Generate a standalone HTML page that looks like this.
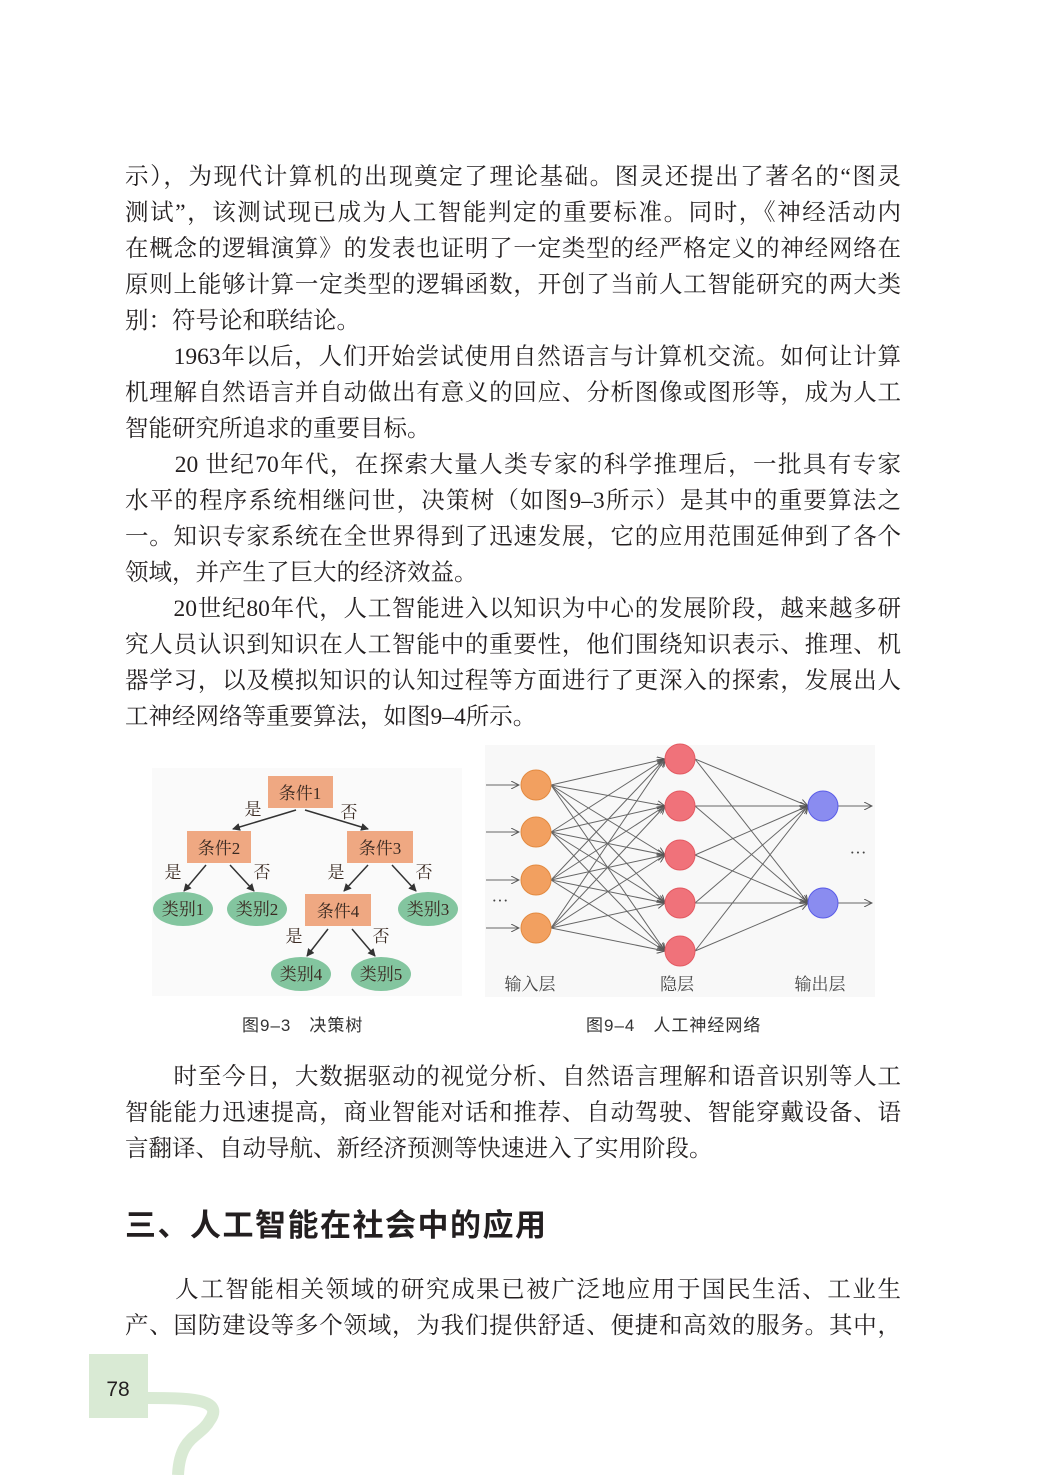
<!DOCTYPE html>
<html><head><meta charset="utf-8"><style>
body{margin:0;background:#fff;}
#p{position:relative;width:1047px;height:1475px;overflow:hidden;background:#fff;font-family:"Liberation Serif","Noto Serif CJK SC",serif;color:#231f20;}
.l{position:absolute;left:125px;width:776px;font-size:23.5px;line-height:36px;height:36px;text-align:justify;text-align-last:justify;white-space:nowrap;}
.e{text-align-last:left;}
.cap{position:absolute;font-size:17px;font-family:"Liberation Sans","Noto Sans CJK SC",sans-serif;color:#333;letter-spacing:1px;}
h2{position:absolute;left:125px;top:1200px;margin:0;font:bold 31px "Liberation Sans","Noto Sans CJK SC",sans-serif;letter-spacing:1.5px;color:#231f20;}
</style></head><body><div id="p">
<div class="l" style="top:159px">示），为现代计算机的出现奠定了理论基础。图灵还提出了著名的“图灵</div>
<div class="l" style="top:195px">测试”，该测试现已成为人工智能判定的重要标准。同时，《神经活动内</div>
<div class="l" style="top:231px">在概念的逻辑演算》的发表也证明了一定类型的经严格定义的神经网络在</div>
<div class="l" style="top:267px">原则上能够计算一定类型的逻辑函数，开创了当前人工智能研究的两大类</div>
<div class="l e" style="top:303px">别：符号论和联结论。</div>
<div class="l" style="top:339px">　　1963年以后，人们开始尝试使用自然语言与计算机交流。如何让计算</div>
<div class="l" style="top:375px">机理解自然语言并自动做出有意义的回应、分析图像或图形等，成为人工</div>
<div class="l e" style="top:411px">智能研究所追求的重要目标。</div>
<div class="l" style="top:447px">　　20 世纪70年代，在探索大量人类专家的科学推理后，一批具有专家</div>
<div class="l" style="top:483px">水平的程序系统相继问世，决策树（如图9–3所示）是其中的重要算法之</div>
<div class="l" style="top:519px">一。知识专家系统在全世界得到了迅速发展，它的应用范围延伸到了各个</div>
<div class="l e" style="top:555px">领域，并产生了巨大的经济效益。</div>
<div class="l" style="top:591px">　　20世纪80年代，人工智能进入以知识为中心的发展阶段，越来越多研</div>
<div class="l" style="top:627px">究人员认识到知识在人工智能中的重要性，他们围绕知识表示、推理、机</div>
<div class="l" style="top:663px">器学习，以及模拟知识的认知过程等方面进行了更深入的探索，发展出人</div>
<div class="l e" style="top:699px">工神经网络等重要算法，如图9–4所示。</div>

<svg style="position:absolute;left:0;top:0" width="1047" height="1475" font-family="Liberation Serif,Noto Serif CJK SC,serif">
<defs><marker id="a" markerWidth="8" markerHeight="8" refX="7" refY="4" orient="auto" markerUnits="userSpaceOnUse"><path d="M0,0L8,4L0,8z" fill="#333"/></marker>
<marker id="b" markerWidth="9" markerHeight="8" refX="8" refY="4" orient="auto" markerUnits="userSpaceOnUse"><path d="M0,0L8,4L0,8" fill="none" stroke="#555" stroke-width="1"/></marker></defs>
<rect x="152" y="768" width="310" height="228" fill="#fafafa"/>
<g stroke="#333" stroke-width="1.5" marker-end="url(#a)">
<line x1="296" y1="810" x2="233" y2="829"/><line x1="305" y1="810" x2="368" y2="829"/>
<line x1="206" y1="865" x2="184" y2="891"/><line x1="230" y1="865" x2="254" y2="891"/>
<line x1="368" y1="865" x2="344" y2="891"/><line x1="392" y1="865" x2="416" y2="891"/>
<line x1="328" y1="929" x2="307" y2="956"/><line x1="352" y1="929" x2="375" y2="956"/>
</g>
<g fill="#efa882"><rect x="268" y="776" width="65" height="32"/><rect x="187" y="831" width="64" height="32"/><rect x="347" y="831" width="66" height="32"/><rect x="305" y="894" width="66" height="32"/></g>
<g fill="#83c59f"><ellipse cx="183" cy="909" rx="30" ry="17"/><ellipse cx="257" cy="909" rx="30" ry="17"/><ellipse cx="428" cy="909" rx="30" ry="17"/><ellipse cx="301" cy="974" rx="30" ry="17"/><ellipse cx="381" cy="974" rx="30" ry="17"/></g>
<g font-size="17" fill="#3a2a22" text-anchor="middle">
<text x="300" y="799">条件1</text><text x="219" y="854">条件2</text><text x="380" y="854">条件3</text><text x="338" y="917">条件4</text>
<text x="183" y="915">类别1</text><text x="257" y="915">类别2</text><text x="428" y="915">类别3</text><text x="301" y="980">类别4</text><text x="381" y="980">类别5</text>
<text x="253" y="815">是</text><text x="349" y="818">否</text><text x="173" y="878">是</text><text x="262" y="878">否</text><text x="336" y="878">是</text><text x="424" y="878">否</text><text x="294" y="942">是</text><text x="381" y="942">否</text>
</g>
<rect x="485" y="745" width="390" height="252" fill="#f8f8f8"/>
<g stroke="#666" stroke-width="1" marker-end="url(#b)">
<line x1="486" y1="785" x2="519" y2="785"/><line x1="486" y1="832" x2="519" y2="832"/><line x1="486" y1="880" x2="519" y2="880"/><line x1="486" y1="928" x2="519" y2="928"/>
<line x1="838" y1="806" x2="872" y2="806"/><line x1="838" y1="903" x2="872" y2="903"/>
<line x1="551" y1="785" x2="665" y2="759"/><line x1="551" y1="785" x2="665" y2="806"/><line x1="551" y1="785" x2="665" y2="855"/><line x1="551" y1="785" x2="665" y2="903"/><line x1="551" y1="785" x2="665" y2="951"/>
<line x1="551" y1="832" x2="665" y2="759"/><line x1="551" y1="832" x2="665" y2="806"/><line x1="551" y1="832" x2="665" y2="855"/><line x1="551" y1="832" x2="665" y2="903"/><line x1="551" y1="832" x2="665" y2="951"/>
<line x1="551" y1="880" x2="665" y2="759"/><line x1="551" y1="880" x2="665" y2="806"/><line x1="551" y1="880" x2="665" y2="855"/><line x1="551" y1="880" x2="665" y2="903"/><line x1="551" y1="880" x2="665" y2="951"/>
<line x1="551" y1="928" x2="665" y2="759"/><line x1="551" y1="928" x2="665" y2="806"/><line x1="551" y1="928" x2="665" y2="855"/><line x1="551" y1="928" x2="665" y2="903"/><line x1="551" y1="928" x2="665" y2="951"/>
<line x1="695" y1="759" x2="808" y2="806"/><line x1="695" y1="759" x2="808" y2="903"/><line x1="695" y1="806" x2="808" y2="806"/><line x1="695" y1="806" x2="808" y2="903"/><line x1="695" y1="855" x2="808" y2="806"/><line x1="695" y1="855" x2="808" y2="903"/><line x1="695" y1="903" x2="808" y2="806"/><line x1="695" y1="903" x2="808" y2="903"/><line x1="695" y1="951" x2="808" y2="806"/><line x1="695" y1="951" x2="808" y2="903"/>
</g>
<g fill="#f2a060" stroke="#e38a40"><circle cx="536" cy="785" r="15"/><circle cx="536" cy="832" r="15"/><circle cx="536" cy="880" r="15"/><circle cx="536" cy="928" r="15"/></g>
<g fill="#f0727a" stroke="#e35a62"><circle cx="680" cy="759" r="15"/><circle cx="680" cy="806" r="15"/><circle cx="680" cy="855" r="15"/><circle cx="680" cy="903" r="15"/><circle cx="680" cy="951" r="15"/></g>
<g fill="#8a8cf0" stroke="#5a5ce8"><circle cx="823" cy="806" r="15"/><circle cx="823" cy="903" r="15"/></g>
<g font-size="17" fill="#444" text-anchor="middle"><text x="500" y="906">···</text><text x="858" y="858">···</text><text x="530" y="990">输入层</text><text x="677" y="990">隐层</text><text x="820" y="990">输出层</text></g>
<rect x="89" y="1354" width="59" height="64" fill="#d9ead4"/>
<path d="M148,1398 C185,1398 225,1398 210,1420 C200,1438 180,1435 178,1475" fill="none" stroke="#d9ead4" stroke-width="12"/>
<text x="118" y="1396" font-family="Liberation Sans,sans-serif" font-size="21" text-anchor="middle" fill="#231f20">78</text>
</svg>
<div class="cap" style="left:242px;top:1011px">图9–3　决策树</div>
<div class="cap" style="left:586px;top:1011px">图9–4　人工神经网络</div>
<div class="l" style="top:1059px">　　时至今日，大数据驱动的视觉分析、自然语言理解和语音识别等人工</div>
<div class="l" style="top:1095px">智能能力迅速提高，商业智能对话和推荐、自动驾驶、智能穿戴设备、语</div>
<div class="l e" style="top:1131px">言翻译、自动导航、新经济预测等快速进入了实用阶段。</div>
<h2>三、人工智能在社会中的应用</h2>
<div class="l" style="top:1272px">　　人工智能相关领域的研究成果已被广泛地应用于国民生活、工业生</div>
<div class="l" style="top:1308px">产、国防建设等多个领域，为我们提供舒适、便捷和高效的服务。其中，</div>
</div></body></html>
